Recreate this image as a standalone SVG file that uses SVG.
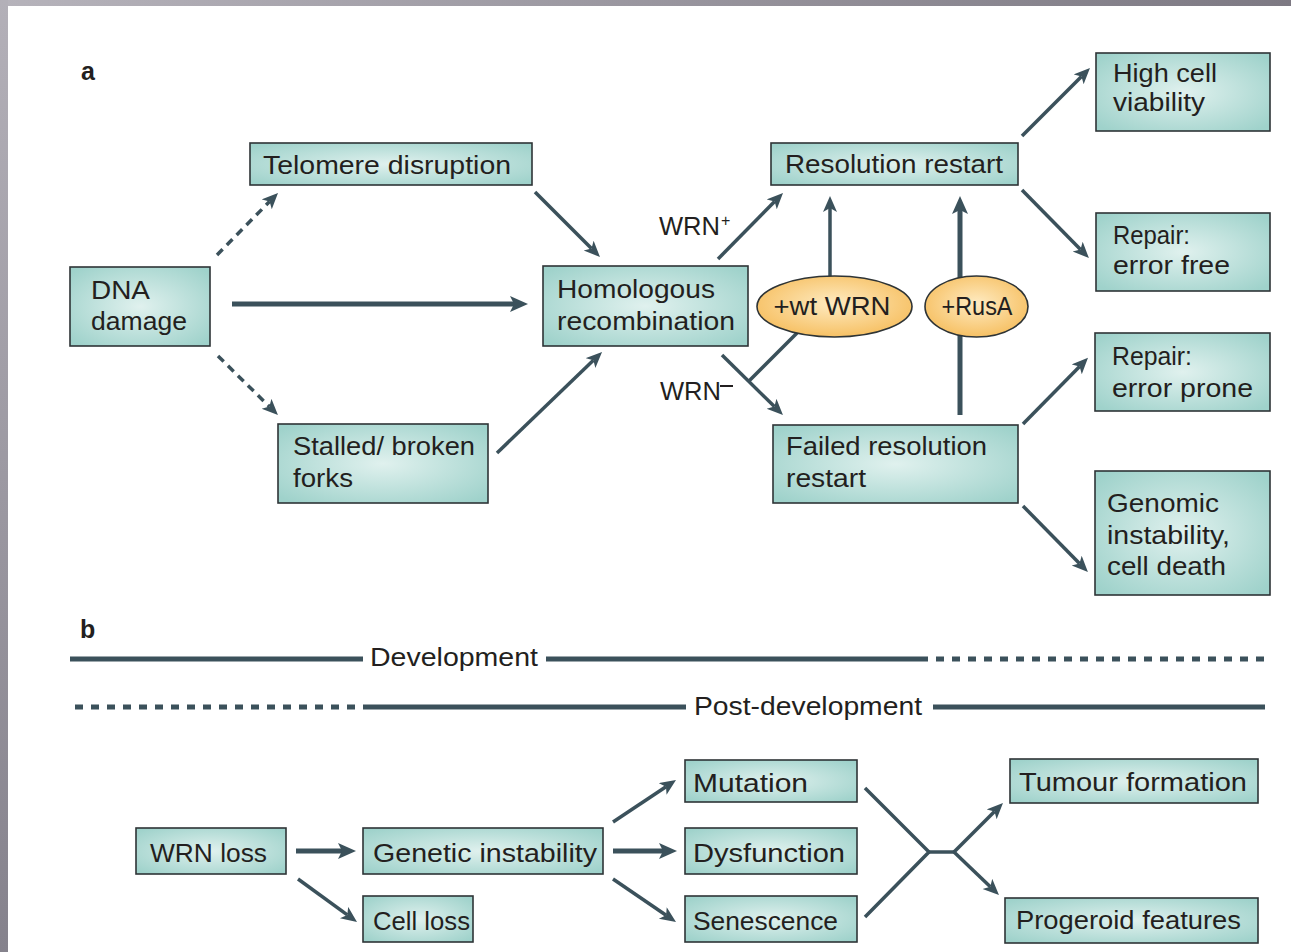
<svg xmlns="http://www.w3.org/2000/svg" width="1291" height="952" viewBox="0 0 1291 952">
<style>
.box{fill:url(#boxg);stroke:#2e3436;stroke-width:1.6}
.ell{fill:url(#ellg);stroke:#2e3436;stroke-width:1.6}
.t{font-family:"Liberation Sans",Arial,sans-serif;font-size:26px;fill:#231f20}
.lbl{font-family:"Liberation Sans",Arial,sans-serif;font-size:25px;font-weight:bold;fill:#231f20}
.c{stroke:#3b515b;stroke-width:3.5;fill:none}
.ck{stroke:#3b515b;stroke-width:5;fill:none}
.a{marker-end:url(#ah)}
.ak{marker-end:url(#ahk)}
.d{stroke-dasharray:8 6}
.bd{stroke-dasharray:8 8}
</style>
<defs>
<radialGradient id="boxg" cx="50%" cy="50%" r="65%">
<stop offset="0" stop-color="#e0f1ee"/>
<stop offset="1" stop-color="#9fd2cb"/>
</radialGradient>
<radialGradient id="ellg" cx="50%" cy="45%" r="60%">
<stop offset="0" stop-color="#feebc2"/>
<stop offset="1" stop-color="#f6bd5c"/>
</radialGradient>
<linearGradient id="topg" x1="0" y1="0" x2="1" y2="0">
<stop offset="0" stop-color="#b6b3bb"/>
<stop offset="1" stop-color="#7d7983"/>
</linearGradient>
<linearGradient id="leftg" x1="0" y1="0" x2="0" y2="1">
<stop offset="0" stop-color="#b3b0b8"/>
<stop offset="1" stop-color="#85828c"/>
</linearGradient>
<marker id="ah" markerUnits="userSpaceOnUse" markerWidth="18" markerHeight="16" refX="4" refY="7" orient="auto">
<path d="M0,0 L16,7 L0,14 L4,7 z" fill="#3b515b"/>
</marker>
<marker id="ahk" markerUnits="userSpaceOnUse" markerWidth="20" markerHeight="18" refX="4" refY="8" orient="auto">
<path d="M0,0 L18,8 L0,16 L4,8 z" fill="#3b515b"/>
</marker>
</defs>

<rect x="0" y="0" width="1291" height="952" fill="#ffffff"/>
<rect x="0" y="0" width="1291" height="6" fill="url(#topg)"/>
<rect x="0" y="0" width="8" height="952" fill="url(#leftg)"/>

<text class="lbl" x="81" y="80">a</text>
<text class="lbl" x="80" y="638">b</text>

<g id="connectors">
<line class="c d a" x1="217" y1="255" x2="269.6" y2="201.5"/>
<line class="c d a" x1="218" y1="356" x2="269.4" y2="406.6"/>
<line class="ck ak" x1="232" y1="304" x2="514" y2="304"/>
<line class="c a" x1="535" y1="192" x2="591.5" y2="248.5"/>
<line class="c a" x1="497" y1="453" x2="593.4" y2="360.3"/>
<line class="c a" x1="718" y1="259" x2="774.6" y2="201.5"/>
<line class="c a" x1="722" y1="355" x2="774.4" y2="406.6"/>
<line class="c" x1="749" y1="381" x2="797" y2="333"/>
<line class="c a" x1="830" y1="280" x2="830" y2="208"/>
<line class="ck ak" x1="960" y1="415" x2="960" y2="210"/>
<line class="c a" x1="1022" y1="136" x2="1081.5" y2="76.5"/>
<line class="c a" x1="1022" y1="190" x2="1080.5" y2="249.5"/>
<line class="c a" x1="1023" y1="424" x2="1079.6" y2="366.4"/>
<line class="c a" x1="1023" y1="506" x2="1079.5" y2="563.5"/>

<line class="ck" x1="70" y1="659" x2="363" y2="659"/>
<line class="ck" x1="546" y1="659" x2="928" y2="659"/>
<line class="ck bd" x1="936" y1="659" x2="1265" y2="659"/>
<line class="ck bd" x1="75" y1="707" x2="358" y2="707"/>
<line class="ck" x1="363" y1="707" x2="686" y2="707"/>
<line class="ck" x1="933" y1="707" x2="1265" y2="707"/>

<line class="ck ak" x1="296" y1="851" x2="342" y2="851"/>
<line class="c a" x1="298" y1="879" x2="347.3" y2="914.9"/>
<line class="c a" x1="613" y1="822" x2="666" y2="786.7"/>
<line class="ck ak" x1="613" y1="851" x2="663" y2="851"/>
<line class="c a" x1="613" y1="879" x2="666.1" y2="915.2"/>
<polyline class="c" points="865,788 929,852 865,917"/>
<line class="c" x1="929" y1="852" x2="954" y2="852"/>
<line class="c a" x1="954" y1="852" x2="994.5" y2="811.5"/>
<line class="c a" x1="954" y1="852" x2="990.3" y2="886.7"/>
</g>

<text class="t" x="659" y="235" textLength="61" lengthAdjust="spacingAndGlyphs">WRN</text>
<text class="t" x="721" y="226" style="font-size:16px">+</text>
<text class="t" x="660" y="400" textLength="61" lengthAdjust="spacingAndGlyphs">WRN</text>
<line x1="720" y1="386" x2="733" y2="386" stroke="#231f20" stroke-width="2"/>

<g id="n-dna">
<rect class="box" x="70" y="267" width="140" height="79"/>
<text class="t" x="91" y="299" textLength="59" lengthAdjust="spacingAndGlyphs">DNA</text>
<text class="t" x="91" y="330" textLength="96" lengthAdjust="spacingAndGlyphs">damage</text>
</g>
<g id="n-telomere">
<rect class="box" x="250" y="143" width="282" height="42"/>
<text class="t" x="263" y="174" textLength="248" lengthAdjust="spacingAndGlyphs">Telomere disruption</text>
</g>
<g id="n-stalled">
<rect class="box" x="278" y="424" width="210" height="79"/>
<text class="t" x="293" y="455" textLength="182" lengthAdjust="spacingAndGlyphs">Stalled/ broken</text>
<text class="t" x="293" y="487" textLength="60" lengthAdjust="spacingAndGlyphs">forks</text>
</g>
<g id="n-homologous">
<rect class="box" x="543" y="266" width="205" height="80"/>
<text class="t" x="557" y="298" textLength="158" lengthAdjust="spacingAndGlyphs">Homologous</text>
<text class="t" x="557" y="330" textLength="178" lengthAdjust="spacingAndGlyphs">recombination</text>
</g>
<g id="n-wtwrn">
<ellipse class="ell" cx="834.5" cy="306.5" rx="77.5" ry="30.5"/>
<text class="t" x="832" y="315" text-anchor="middle" textLength="117" lengthAdjust="spacingAndGlyphs">+wt WRN</text>
</g>
<g id="n-rusa">
<ellipse class="ell" cx="976.5" cy="306.5" rx="51.5" ry="30.5"/>
<text class="t" x="977" y="315" text-anchor="middle" textLength="71" lengthAdjust="spacingAndGlyphs">+RusA</text>
</g>
<g id="n-resolution">
<rect class="box" x="771" y="143" width="247" height="42"/>
<text class="t" x="785" y="173" textLength="218" lengthAdjust="spacingAndGlyphs">Resolution restart</text>
</g>
<g id="n-failed">
<rect class="box" x="773" y="425" width="245" height="78"/>
<text class="t" x="786" y="455" textLength="201" lengthAdjust="spacingAndGlyphs">Failed resolution</text>
<text class="t" x="786" y="487" textLength="80" lengthAdjust="spacingAndGlyphs">restart</text>
</g>
<g id="n-high">
<rect class="box" x="1096" y="53" width="174" height="78"/>
<text class="t" x="1113" y="82" textLength="104" lengthAdjust="spacingAndGlyphs">High cell</text>
<text class="t" x="1113" y="111" textLength="92" lengthAdjust="spacingAndGlyphs">viability</text>
</g>
<g id="n-errorfree">
<rect class="box" x="1096" y="213" width="174" height="78"/>
<text class="t" x="1113" y="244" textLength="77" lengthAdjust="spacingAndGlyphs">Repair:</text>
<text class="t" x="1113" y="274" textLength="117" lengthAdjust="spacingAndGlyphs">error free</text>
</g>
<g id="n-errorprone">
<rect class="box" x="1095" y="333" width="175" height="78"/>
<text class="t" x="1112" y="365" textLength="80" lengthAdjust="spacingAndGlyphs">Repair:</text>
<text class="t" x="1112" y="397" textLength="141" lengthAdjust="spacingAndGlyphs">error prone</text>
</g>
<g id="n-genomic">
<rect class="box" x="1095" y="471" width="175" height="124"/>
<text class="t" x="1107" y="512" textLength="112" lengthAdjust="spacingAndGlyphs">Genomic</text>
<text class="t" x="1107" y="544" textLength="123" lengthAdjust="spacingAndGlyphs">instability,</text>
<text class="t" x="1107" y="575" textLength="119" lengthAdjust="spacingAndGlyphs">cell death</text>
</g>

<g id="n-development">
<text class="t" x="370" y="666" textLength="168" lengthAdjust="spacingAndGlyphs">Development</text>
</g>
<g id="n-postdevelopment">
<text class="t" x="694" y="715" textLength="228" lengthAdjust="spacingAndGlyphs">Post-development</text>
</g>

<g id="n-wrnloss">
<rect class="box" x="136" y="828" width="150" height="46"/>
<text class="t" x="150" y="862" textLength="117" lengthAdjust="spacingAndGlyphs">WRN loss</text>
</g>
<g id="n-genetic">
<rect class="box" x="363" y="828" width="240" height="46"/>
<text class="t" x="373" y="862" textLength="224" lengthAdjust="spacingAndGlyphs">Genetic instability</text>
</g>
<g id="n-cellloss">
<rect class="box" x="363" y="896" width="110" height="46"/>
<text class="t" x="373" y="930" textLength="97" lengthAdjust="spacingAndGlyphs">Cell loss</text>
</g>
<g id="n-mutation">
<rect class="box" x="685" y="760" width="172" height="42"/>
<text class="t" x="693" y="792" textLength="115" lengthAdjust="spacingAndGlyphs">Mutation</text>
</g>
<g id="n-dysfunction">
<rect class="box" x="685" y="828" width="172" height="46"/>
<text class="t" x="693" y="862" textLength="152" lengthAdjust="spacingAndGlyphs">Dysfunction</text>
</g>
<g id="n-senescence">
<rect class="box" x="685" y="896" width="172" height="46"/>
<text class="t" x="693" y="930" textLength="145" lengthAdjust="spacingAndGlyphs">Senescence</text>
</g>
<g id="n-tumour">
<rect class="box" x="1010" y="759" width="248" height="44"/>
<text class="t" x="1019" y="791" textLength="228" lengthAdjust="spacingAndGlyphs">Tumour formation</text>
</g>
<g id="n-progeroid">
<rect class="box" x="1005" y="898" width="253" height="45"/>
<text class="t" x="1016" y="929" textLength="225" lengthAdjust="spacingAndGlyphs">Progeroid features</text>
</g>
</svg>
